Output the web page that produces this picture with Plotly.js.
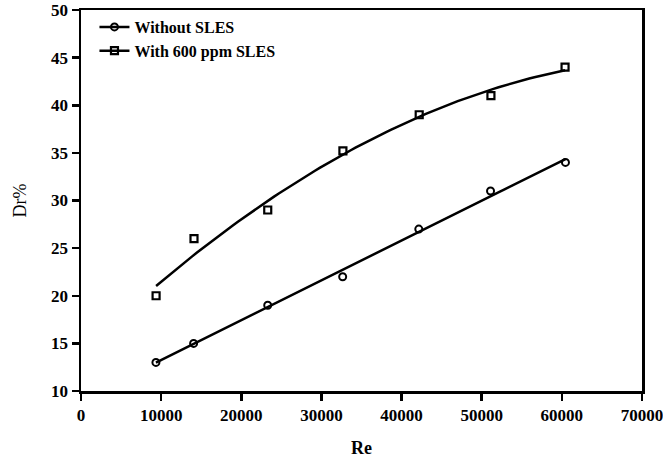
<!DOCTYPE html>
<html>
<head>
<meta charset="utf-8">
<script src="https://cdn.plot.ly/plotly-3.0.1.min.js"></script>
<style>
html,body{margin:0;padding:0;background:#fff;}
#chart{width:663px;height:461px;}
</style>
</head>
<body>
<div id="chart"></div>
<script>
// Data
var reWithout = [9350, 14050, 23300, 32650, 42150, 51100, 60450];
var drWithout = [13, 15, 19, 22, 27, 31, 34];
var reWith = [9370, 14100, 23300, 32680, 42200, 51150, 60400];
var drWith = [20, 26, 29, 35.2, 39, 41, 44];
var seriesNames = ["Without SLES", "With 600 ppm SLES"];
var xTicks = [0, 10000, 20000, 30000, 40000, 50000, 60000, 70000];
var yTicks = [10, 15, 20, 25, 30, 35, 40, 45, 50];

// Second-order least-squares fit computed from the data points
function quadFit(xs, ys) {
  var s = [0,0,0,0,0], t = [0,0,0];
  var sc = 1e4;
  for (var i = 0; i < xs.length; i++) {
    var x = xs[i] / sc, p = 1;
    for (var k = 0; k < 5; k++) { s[k] += p; if (k < 3) t[k] += p * ys[i]; p *= x; }
  }
  var A = [[s[0],s[1],s[2],t[0]],[s[1],s[2],s[3],t[1]],[s[2],s[3],s[4],t[2]]];
  for (var c = 0; c < 3; c++) {
    for (var r = c + 1; r < 3; r++) {
      var f = A[r][c] / A[c][c];
      for (var j = c; j < 4; j++) A[r][j] -= f * A[c][j];
    }
  }
  var b = [0,0,0];
  for (var r2 = 2; r2 >= 0; r2--) {
    var v = A[r2][3];
    for (var j2 = r2 + 1; j2 < 3; j2++) v -= A[r2][j2] * b[j2];
    b[r2] = v / A[r2][r2];
  }
  return function (x) { var u = x / sc; return b[0] + b[1] * u + b[2] * u * u; };
}
function fitCurve(xs, ys) {
  var f = quadFit(xs, ys), n = 80;
  var lo = Math.min.apply(null, xs), hi = Math.max.apply(null, xs);
  var cx = [], cy = [];
  for (var i = 0; i <= n; i++) { var x = lo + (hi - lo) * i / n; cx.push(x); cy.push(f(x)); }
  return {x: cx, y: cy};
}
var fitA = fitCurve(reWithout, drWithout);
var fitB = fitCurve(reWith, drWith);

var fam = "Liberation Serif, Times New Roman, serif";
var mCircle = {symbol: "circle-open", size: 7, color: "#000", line: {width: 2, color: "#000"}};
var mSquare = {symbol: "square-open", size: 7, color: "#000", line: {width: 2.2, color: "#000"}};

var traces = [
  {x: fitA.x, y: fitA.y, mode: "lines", line: {color: "#000", width: 2.5}, showlegend: false, hoverinfo: "skip"},
  {x: fitB.x, y: fitB.y, mode: "lines", line: {color: "#000", width: 2.5}, showlegend: false, hoverinfo: "skip"},
  {x: reWithout, y: drWithout, mode: "markers", marker: mCircle, showlegend: false},
  {x: reWith, y: drWith, mode: "markers", marker: mSquare, showlegend: false},
  // legend entries (line + marker symbol), no plotted data
  {x: [null], y: [null], name: seriesNames[0], mode: "lines+markers", line: {color: "#000", width: 2.5}, marker: mCircle},
  {x: [null], y: [null], name: seriesNames[1], mode: "lines+markers", line: {color: "#000", width: 2.5}, marker: mSquare}
];

var layout = {
  width: 663, height: 461,
  margin: {l: 81, r: 21, t: 10, b: 70},
  paper_bgcolor: "#fff", plot_bgcolor: "#fff",
  font: {family: fam, color: "#000", size: 17},
  showlegend: true,
  legend: {x: 0.024, y: 1, xanchor: "left", yanchor: "top", bgcolor: "rgba(0,0,0,0)",
           font: {family: fam, size: 16, weight: "bold", color: "#000"}, tracegroupgap: 0},
  xaxis: {
    range: [0, 70000], tickvals: xTicks, ticktext: xTicks.map(String), ticklabeloverflow: "allow",
    showgrid: false, zeroline: false, showline: true, linecolor: "#000", linewidth: 2.5, mirror: true,
    ticks: "outside", ticklen: 7, tickwidth: 2.5, tickcolor: "#000",
    tickfont: {family: fam, size: 17, weight: "bold", color: "#000"},
    title: {text: "Re", font: {family: fam, size: 18, weight: "bold", color: "#000"}, standoff: 18}
  },
  yaxis: {
    range: [10, 50], tickvals: yTicks, ticktext: yTicks.map(String), ticklabeloverflow: "allow",
    showgrid: false, zeroline: false, showline: true, linecolor: "#000", linewidth: 2.5, mirror: true,
    ticks: "outside", ticklen: 7, tickwidth: 2.5, tickcolor: "#000",
    tickfont: {family: fam, size: 17, weight: "bold", color: "#000"},
    title: {text: "Dr%", font: {family: fam, size: 18, color: "#000"}, standoff: 20}
  }
};

Plotly.newPlot("chart", traces, layout, {displayModeBar: false, staticPlot: true});
</script>
</body>
</html>
